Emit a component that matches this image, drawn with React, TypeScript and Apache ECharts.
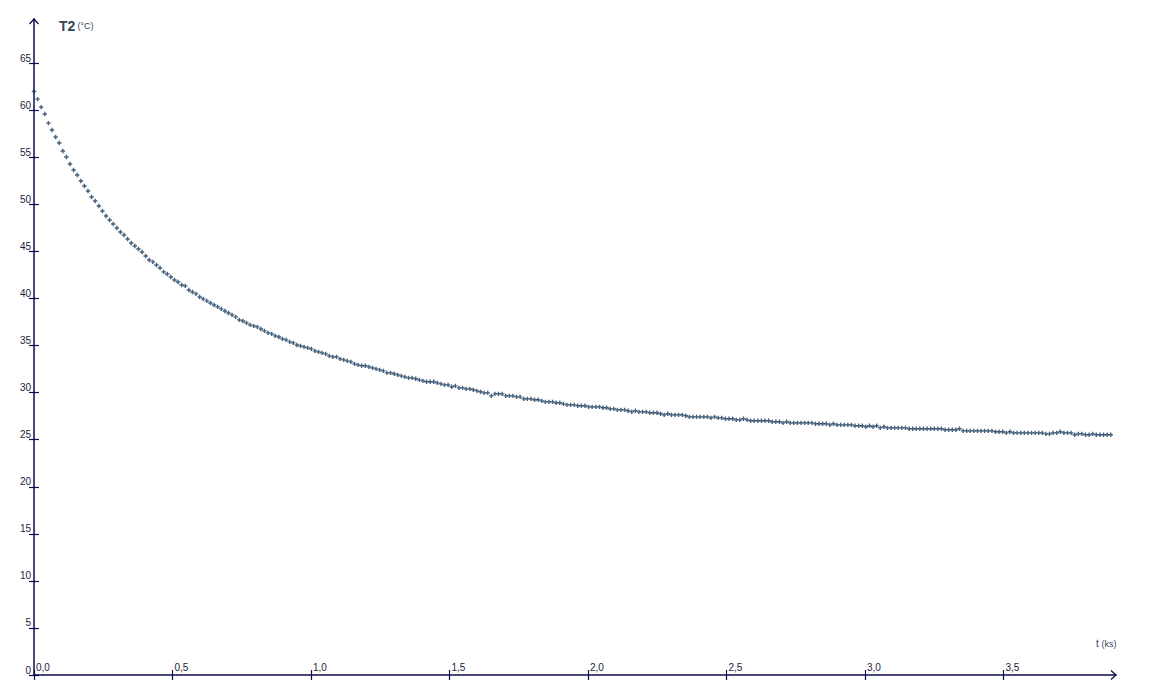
// Refroidissement : T2 en fonction du temps
import { useRef, useEffect } from "react";
import * as echarts from "echarts";

// pas d'échantillonnage (ks)
const SAMPLE_STEP = 0.013;

// T2 (°C), un relevé tous les SAMPLE_STEP
const temperatures = [
  62.0, 61.19, 60.34, 59.6, 58.64, 57.9, 57.16, 56.52, 55.67, 55.03,
  54.29, 53.65, 53.12, 52.48, 51.95, 51.42, 50.79, 50.36, 49.83, 49.3,
  48.77, 48.34, 47.92, 47.49, 47.07, 46.75, 46.33, 45.9, 45.58, 45.27,
  44.95, 44.52, 44.1, 43.89, 43.57, 43.25, 42.83, 42.61, 42.29, 41.97,
  41.76, 41.44, 41.34, 40.91, 40.7, 40.49, 40.17, 39.96, 39.75, 39.53,
  39.32, 39.11, 38.9, 38.68, 38.47, 38.26, 38.05, 37.73, 37.62, 37.41,
  37.2, 37.09, 36.99, 36.77, 36.56, 36.35, 36.24, 36.03, 35.92, 35.71,
  35.61, 35.39, 35.29, 35.07, 34.97, 34.86, 34.76, 34.65, 34.44, 34.33,
  34.23, 34.12, 33.91, 33.8, 33.8, 33.59, 33.48, 33.38, 33.27, 33.06,
  32.95, 32.85, 32.85, 32.74, 32.63, 32.53, 32.42, 32.31, 32.1, 32.1,
  32.0, 31.89, 31.78, 31.68, 31.57, 31.57, 31.47, 31.36, 31.25, 31.15,
  31.15, 31.15, 31.04, 30.93, 30.83, 30.83, 30.62, 30.72, 30.51, 30.51,
  30.4, 30.4, 30.3, 30.19, 30.09, 29.98, 29.98, 29.66, 29.87, 29.87,
  29.87, 29.66, 29.66, 29.66, 29.55, 29.55, 29.34, 29.34, 29.34, 29.24,
  29.24, 29.13, 29.02, 29.02, 29.02, 28.92, 28.92, 28.81, 28.7, 28.7,
  28.7, 28.6, 28.6, 28.6, 28.49, 28.49, 28.49, 28.49, 28.39, 28.39,
  28.28, 28.28, 28.17, 28.17, 28.17, 28.07, 27.96, 28.07, 27.96, 27.96,
  27.96, 27.86, 27.86, 27.86, 27.75, 27.64, 27.75, 27.64, 27.64, 27.64,
  27.64, 27.54, 27.43, 27.43, 27.43, 27.43, 27.43, 27.43, 27.32, 27.43,
  27.32, 27.32, 27.22, 27.22, 27.22, 27.11, 27.11, 27.22, 27.11, 27.01,
  27.01, 27.01, 27.01, 27.01, 27.01, 26.9, 26.9, 26.9, 26.79, 26.9,
  26.79, 26.79, 26.79, 26.79, 26.79, 26.79, 26.79, 26.69, 26.69, 26.69,
  26.69, 26.58, 26.69, 26.58, 26.58, 26.58, 26.58, 26.58, 26.48, 26.48,
  26.48, 26.37, 26.48, 26.37, 26.48, 26.26, 26.37, 26.26, 26.26, 26.26,
  26.26, 26.26, 26.26, 26.16, 26.16, 26.16, 26.16, 26.16, 26.16, 26.16,
  26.16, 26.16, 26.16, 26.05, 26.05, 26.05, 26.05, 26.16, 25.94, 25.94,
  25.94, 25.94, 25.94, 25.94, 25.94, 25.94, 25.94, 25.84, 25.84, 25.84,
  25.73, 25.84, 25.73, 25.73, 25.73, 25.73, 25.73, 25.73, 25.73, 25.73,
  25.73, 25.62, 25.62, 25.73, 25.73, 25.84, 25.73, 25.73, 25.73, 25.52,
  25.62, 25.62, 25.52, 25.52, 25.62, 25.52, 25.52, 25.52, 25.52, 25.52,
];

// graduations
const xTicks = [0, 0.5, 1, 1.5, 2, 2.5, 3, 3.5];
const yTicks = [0, 5, 10, 15, 20, 25, 30, 35, 40, 45, 50, 55, 60, 65];

// bouts des axes (flèches)
const X_MAX = 3.906;
const Y_MAX = 69.7;

const AXIS_COLOR = "#0d0d4d";
const TEXT_COLOR = "#1c1c3c";
const NAME_COLOR = "#34465c";
const POINT_COLOR = "#17385a";
const FONT = "Liberation Sans, Arial, sans-serif";

const App = () => {
  const chartRef = useRef<HTMLDivElement>(null);

  useEffect(() => {
    const myChart = echarts.init(chartRef.current, null, { renderer: "svg" });

    const points = temperatures.map((v, i) => [
      +(i * SAMPLE_STEP).toFixed(3),
      v,
    ]);

    const xLabel = (v: number) => v.toFixed(1).replace(".", ",");
    const tickStyle = { color: AXIS_COLOR, width: 1.2 };

    const option = {
      animation: false,
      grid: { left: 34, right: 33, top: 19, bottom: 16 },
      xAxis: [
        {
          type: "value",
          min: 0,
          max: X_MAX,
          interval: 0.5,
          axisLine: {
            show: true,
            lineStyle: { color: AXIS_COLOR, width: 1.5 },
          },
          axisTick: {
            show: true,
            inside: true,
            length: 5,
            customValues: xTicks,
            lineStyle: tickStyle,
          },
          axisLabel: {
            inside: true,
            margin: 3,
            customValues: xTicks,
            formatter: xLabel,
            align: "left",
            padding: [0, 0, 0, 2],
            color: TEXT_COLOR,
            fontSize: 10,
            fontFamily: FONT,
          },
          splitLine: { show: false },
        },
        {
          type: "value",
          position: "bottom",
          min: 0,
          max: X_MAX,
          interval: 0.5,
          axisLine: { show: false },
          axisTick: {
            show: true,
            inside: false,
            length: 5,
            customValues: xTicks,
            lineStyle: tickStyle,
          },
          axisLabel: { show: false },
          splitLine: { show: false },
        },
      ],
      yAxis: [
        {
          type: "value",
          min: 0,
          max: Y_MAX,
          interval: 5,
          axisLine: {
            show: true,
            lineStyle: { color: AXIS_COLOR, width: 1.5 },
          },
          axisTick: {
            show: true,
            inside: false,
            length: 5,
            customValues: yTicks,
            lineStyle: tickStyle,
          },
          axisLabel: {
            margin: 3,
            customValues: yTicks,
            verticalAlign: "bottom",
            color: TEXT_COLOR,
            fontSize: 10,
            fontFamily: FONT,
          },
          splitLine: { show: false },
        },
        {
          type: "value",
          position: "left",
          min: 0,
          max: Y_MAX,
          interval: 5,
          axisLine: { show: false },
          axisTick: {
            show: true,
            inside: true,
            length: 5,
            customValues: yTicks,
            lineStyle: tickStyle,
          },
          axisLabel: { show: false },
          splitLine: { show: false },
        },
      ],
      series: [
        {
          type: "scatter",
          data: points,
          symbol: "path://M1.7,0H3.3V1.7H5V3.3H3.3V5H1.7V3.3H0V1.7H1.7Z",
          symbolSize: 4.4,
          itemStyle: { color: POINT_COLOR },
        },
      ],
      graphic: [
        {
          id: "nameY",
          type: "text",
          left: 59,
          top: 19,
          style: { text: "T2", font: "bold 14px " + FONT, fill: NAME_COLOR },
        },
        {
          id: "unitY",
          type: "text",
          left: 77.5,
          top: 21,
          style: { text: "(°C)", font: "9px " + FONT, fill: NAME_COLOR },
        },
        {
          id: "nameX",
          type: "text",
          left: 1096,
          top: 638,
          style: { text: "t", font: "10px " + FONT, fill: NAME_COLOR },
        },
        {
          id: "unitX",
          type: "text",
          left: 1101.5,
          top: 639.5,
          style: { text: "(ks)", font: "9px " + FONT, fill: NAME_COLOR },
        },
      ],
    };

    myChart.setOption(option);

    // flèches au bout des axes
    const o = myChart.convertToPixel({ seriesIndex: 0 }, [0, 0]);
    const e = myChart.convertToPixel({ seriesIndex: 0 }, [X_MAX, Y_MAX]);
    const arrowStyle = { stroke: AXIS_COLOR, lineWidth: 1.2, fill: "none" };
    myChart.setOption({
      graphic: [
        {
          id: "arrowY",
          type: "polyline",
          shape: {
            points: [
              [o[0] - 4.5, e[1] + 5],
              [o[0], e[1]],
              [o[0] + 4.5, e[1] + 5],
            ],
          },
          style: arrowStyle,
        },
        {
          id: "arrowX",
          type: "polyline",
          shape: {
            points: [
              [e[0] - 5, o[1] - 4.5],
              [e[0], o[1]],
              [e[0] - 5, o[1] + 4.5],
            ],
          },
          style: arrowStyle,
        },
      ],
    });

    return () => {
      myChart.dispose();
    };
  }, []);

  return (
    <div
      ref={chartRef}
      style={{
        position: "fixed",
        left: 0,
        top: 0,
        width: "1149px",
        height: "691px",
        background: "#fff",
      }}
    ></div>
  );
};

export default App;
